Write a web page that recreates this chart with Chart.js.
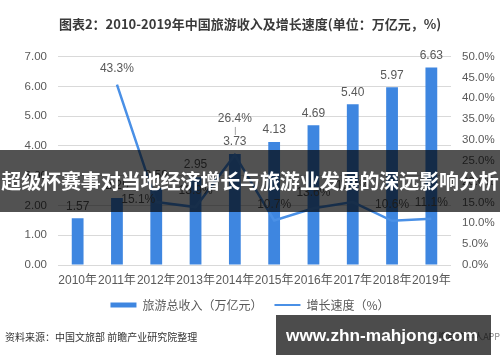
<!DOCTYPE html>
<html>
<head>
<meta charset="utf-8">
<script src="https://cdn.jsdelivr.net/npm/chart.js@4.4.1/dist/chart.umd.min.js"></script>
<style>
  html, body { margin: 0; padding: 0; background: #fff; }
  #wrap { position: relative; width: 500px; height: 362px; overflow: hidden; }
  #c { position: absolute; left: 0; top: 0; }
  .banner { position: absolute; left: 0; top: 150px; width: 500px; height: 62px; background: rgba(0,0,0,0.68);
    color: #fff; font: bold 20px "Noto Sans CJK SC", sans-serif; line-height: 62px; text-align: center; white-space: nowrap; letter-spacing: -0.1px; }
  .source { position: absolute; left: 5px; top: 329px; font: 10px "Noto Sans CJK SC", sans-serif; color: #333; white-space: nowrap; }
  .app { position: absolute; right: 0px; top: 330px; font: 9px "Noto Sans CJK SC", sans-serif; color: #888; white-space: nowrap; }
  .site { position: absolute; left: 276px; top: 315px; width: 215px; height: 40px; background: rgba(0,0,0,0.7); }
  .site span { position: absolute; left: 10px; top: 0; line-height: 40px; color: #fff; font-weight: bold; font-family: "Liberation Sans", sans-serif; white-space: nowrap; }
</style>
</head>
<body>
<div id="wrap">
  <canvas id="c" width="500" height="362"></canvas>
  <div class="banner">超级杯赛事对当地经济增长与旅游业发展的深远影响分析</div>
  <div class="source">资料来源：中国文旅部 前瞻产业研究院整理</div>
  <div class="app">前瞻经济学人APP</div>
  <div class="site"><span id="siteText">www.zhn-mahjong.com</span></div>
</div>
<script>
const titleText = '图表2：2010-2019年中国旅游收入及增长速度(单位：万亿元，%)';
const categories = ['2010年','2011年','2012年','2013年','2014年','2015年','2016年','2017年','2018年','2019年'];
const revenue = [1.57, 2.25, 2.59, 2.95, 3.73, 4.13, 4.69, 5.40, 5.97, 6.63];
const growth = [null, 43.3, 15.1, 13.9, 26.4, 10.7, 13.6, 15.1, 10.6, 11.1];
const seriesNames = ['旅游总收入（万亿元）', '增长速度（%）'];
const leftTicks = [0, 7, 1];
const rightTicks = [0, 50, 5];

// fit site text to width
(function(){
  const s = document.getElementById('siteText');
  let size = 22;
  s.style.fontSize = size + 'px';
  while (s.getBoundingClientRect().width > 192 && size > 10) { size -= 0.25; s.style.fontSize = size + 'px'; }
})();

const FONT = '"Liberation Sans", "Noto Sans CJK SC", sans-serif';
const BAR_C = '#3E86E0';
const LINE_C = '#4A90E6';

const labelPlugin = {
  id: 'valueLabels',
  afterDatasetsDraw(chart) {
    const ctx = chart.ctx;
    const barMeta = chart.getDatasetMeta(0);
    const lineMeta = chart.getDatasetMeta(1);
    ctx.save();
    ctx.font = '12px ' + FONT;
    ctx.fillStyle = '#595959';
    ctx.textAlign = 'center';
    ctx.textBaseline = 'middle';
    const barLabelY = [];
    barMeta.data.forEach((el, i) => {
      const y = el.y - 12;
      barLabelY[i] = y;
      ctx.fillText(revenue[i].toFixed(2), el.x, y);
    });
    lineMeta.data.forEach((el, i) => {
      if (growth[i] == null) return;
      const txt = growth[i].toFixed(1) + '%';
      let x = el.x, y = el.y - 16;
      const barEl = barMeta.data[i];
      if (Math.abs(y - barLabelY[i]) < 14) {
        if (el.y > barEl.y + 4) {
          ctx.textAlign = 'right';
          x = el.x - 1; y = el.y - 2;
          ctx.fillText(txt, x, y);
          ctx.textAlign = 'center';
          return;
        } else {
          y = barLabelY[i] - 23;
          ctx.strokeStyle = '#a6a6a6';
          ctx.lineWidth = 1;
          ctx.beginPath();
          ctx.moveTo(el.x + 0.5, y + 8);
          ctx.lineTo(el.x + 0.5, barLabelY[i] - 7);
          ctx.stroke();
        }
      }
      ctx.fillText(txt, x, y);
    });
    ctx.restore();
  }
};

new Chart(document.getElementById('c'), {
  data: {
    labels: categories,
    datasets: [
      { type: 'bar', label: seriesNames[0], data: revenue, backgroundColor: BAR_C, yAxisID: 'y',
        categoryPercentage: 1.0, barPercentage: 0.3, order: 2 },
      { type: 'line', label: seriesNames[1], data: growth, borderColor: LINE_C, backgroundColor: LINE_C,
        borderWidth: 2.5, pointRadius: 0, tension: 0, yAxisID: 'y1', order: 1, spanGaps: false }
    ]
  },
  options: {
    responsive: false,
    animation: false,
    events: [],
    layout: { padding: { left: 0, right: 0, top: 0, bottom: 41 } },
    plugins: {
      tooltip: { enabled: false },
      title: { display: true, text: titleText, color: '#3a3a3a',
        font: { family: '"Noto Sans CJK SC", sans-serif', size: 13, weight: 'bold' },
        padding: { top: 16, bottom: 25 } },
      legend: {
        position: 'bottom',
        labels: {
          color: '#595959', font: { family: '"Noto Sans CJK SC", sans-serif', size: 12 },
          usePointStyle: true, pointStyleWidth: 26, boxHeight: 5, padding: 12,
          sort: (a, b) => a.datasetIndex - b.datasetIndex,
          generateLabels(chart) {
            const items = Chart.defaults.plugins.legend.labels.generateLabels(chart);
            items.forEach(it => {
              if (it.datasetIndex === 0) { it.pointStyle = 'rect'; it.lineWidth = 0; }
              else { it.pointStyle = 'line'; it.lineWidth = 2; it.strokeStyle = LINE_C; }
            });
            return items;
          }
        }
      }
    },
    scales: {
      x: {
        grid: { display: false, drawTicks: false },
        border: { display: false },
        ticks: { color: '#595959', font: { family: FONT, size: 12 }, padding: 8, maxRotation: 0, autoSkip: false },
        afterFit(s) { s.height = 22; }
      },
      y: {
        position: 'left', min: leftTicks[0], max: leftTicks[1],
        grid: { color: '#d9d9d9', drawTicks: false },
        border: { display: false },
        ticks: { stepSize: leftTicks[2], color: '#595959', font: { family: FONT, size: 11.5 }, padding: 11,
          callback: v => Number(v).toFixed(2) },
        afterFit(s) { s.width = 58; }
      },
      y1: {
        position: 'right', min: rightTicks[0], max: rightTicks[1],
        grid: { display: false, drawTicks: false },
        border: { display: false },
        ticks: { stepSize: rightTicks[2], color: '#595959', font: { family: FONT, size: 11.5 }, padding: 11,
          callback: v => Number(v).toFixed(1) + '%' },
        afterFit(s) { s.width = 49; }
      }
    }
  },
  plugins: [labelPlugin]
});
</script>
</body>
</html>
